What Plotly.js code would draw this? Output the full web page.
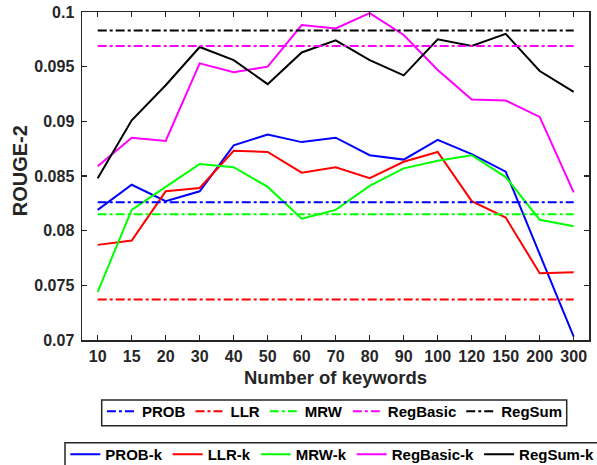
<!DOCTYPE html>
<html>
<head>
<meta charset="utf-8">
<script src="https://cdn.plot.ly/plotly-3.0.1.min.js"></script>
<style>
  html, body { margin: 0; padding: 0; background: #fff; }
  #chart { width: 597px; height: 465px; }
</style>
</head>
<body>
<div id="chart"></div>
<script>
// Categories (number of keywords)
const keywords = ['10','15','20','30','40','50','60','70','80','90','100','120','150','200','300'];

// Keyword-based series (solid lines)
const probK     = [0.0819, 0.0842, 0.0827, 0.0836, 0.0878, 0.0888, 0.0881, 0.0885, 0.0869, 0.0865, 0.0883, 0.0870, 0.0854, 0.0779, 0.0703];
const llrK      = [0.0787, 0.0791, 0.0836, 0.0839, 0.0873, 0.0872, 0.0853, 0.0858, 0.0848, 0.0863, 0.0872, 0.0827, 0.0812, 0.0761, 0.0762];
const mrwK      = [0.0744, 0.0819, 0.0840, 0.0861, 0.0858, 0.0840, 0.0811, 0.0819, 0.0841, 0.0857, 0.0864, 0.0869, 0.0849, 0.0810, 0.0804];
const regBasicK = [0.0859, 0.0885, 0.0882, 0.0953, 0.0945, 0.0950, 0.0988, 0.0985, 0.0999, 0.0979, 0.0947, 0.0920, 0.0919, 0.0904, 0.0835];
const regSumK   = [0.0848, 0.0901, 0.0933, 0.0968, 0.0956, 0.0934, 0.0963, 0.0974, 0.0956, 0.0942, 0.0975, 0.0969, 0.0980, 0.0946, 0.0927];

// Baselines (dash-dot lines)
const probBase     = 0.0826;
const llrBase      = 0.0737;
const mrwBase      = 0.0815;
const regBasicBase = 0.0969;
const regSumBase   = 0.0983;

// Labels
const baseNames = ['PROB', 'LLR', 'MRW', 'RegBasic', 'RegSum'];
const kNames = ['PROB-k', 'LLR-k', 'MRW-k', 'RegBasic-k', 'RegSum-k'];
const yTickVals = [0.07, 0.075, 0.08, 0.085, 0.09, 0.095, 0.1];
const yTickText = ['0.07', '0.075', '0.08', '0.085', '0.09', '0.095', '0.1'];
const xTitle = 'Number of keywords';
const yTitle = 'ROUGE-2';

const baseValues = [probBase, llrBase, mrwBase, regBasicBase, regSumBase];
const kValues = [probK, llrK, mrwK, regBasicK, regSumK];
const colors = ['#0000ff', '#ff0000', '#00ff00', '#ff00ff', '#000000'];

const FONT = '"Liberation Sans", Arial, Helvetica, sans-serif';
const AXC = '#262626';
const W = 597, H = 465, ML = 82, MR = 8, MT = 12, MB = 125;
const PW = W - ML - MR, PH = H - MT - MB;
const px2x = p => (p - ML) / PW;
const px2y = p => 1 - (p - MT) / PH;

const traces = [];
kNames.forEach((n, i) => traces.push({
  type: 'scatter', mode: 'lines', name: n,
  x: keywords, y: kValues[i],
  line: { color: colors[i], width: 2 },
  legend: 'legend2'
}));
baseNames.forEach((n, i) => traces.push({
  type: 'scatter', mode: 'lines', name: n,
  x: [keywords[0], keywords[keywords.length - 1]],
  y: [baseValues[i], baseValues[i]],
  line: { color: colors[i], width: 2, dash: 'dashdot' },
  legend: 'legend'
}));

const boxLine = { color: AXC, width: 1.5 };
const layout = {
  width: W, height: H,
  margin: { l: ML, r: MR, t: MT, b: MB, autoexpand: false },
  paper_bgcolor: '#ffffff', plot_bgcolor: '#ffffff',
  font: { family: FONT, color: AXC, weight: 'bold' },
  showlegend: true,
  xaxis: {
    type: 'category', categoryorder: 'array', categoryarray: keywords,
    range: [-0.4618, 14.45],
    showgrid: false, zeroline: false,
    showline: true, linecolor: AXC, linewidth: 1.5, mirror: 'ticks',
    ticks: 'inside', ticklen: 5, tickwidth: 1.5, tickcolor: AXC, ticklabelstandoff: 1,
    tickfont: { family: FONT, size: 16, color: AXC, weight: 'bold' },
    title: { text: xTitle, font: { family: FONT, size: 18.5, color: AXC, weight: 'bold' }, standoff: 7 }
  },
  yaxis: {
    range: [0.07, 0.1], tickvals: yTickVals, ticktext: yTickText,
    showgrid: false, zeroline: false,
    showline: true, linecolor: AXC, linewidth: 1.5, mirror: 'ticks',
    ticks: 'inside', ticklen: 5, tickwidth: 1.5, tickcolor: AXC, ticklabelstandoff: 3,
    tickfont: { family: FONT, size: 16, color: AXC, weight: 'bold' }
  },
  annotations: [{
    text: yTitle, textangle: -90, xref: 'paper', yref: 'paper',
    x: px2x(20.8), y: px2y(170.5), xanchor: 'center', yanchor: 'middle', showarrow: false,
    font: { family: FONT, size: 20, color: AXC, weight: 'bold' }
  }],
  shapes: [
    { type: 'rect', xref: 'paper', yref: 'paper', x0: px2x(101.7), x1: px2x(566.7), y0: px2y(400), y1: px2y(425.7), line: boxLine, fillcolor: 'rgba(0,0,0,0)', layer: 'above' },
    { type: 'rect', xref: 'paper', yref: 'paper', x0: px2x(65), x1: px2x(610), y0: px2y(442.7), y1: px2y(480), line: boxLine, fillcolor: 'rgba(0,0,0,0)', layer: 'above' }
  ],
  legend: {
    orientation: 'h', x: 0.0394, xanchor: 'left', y: -0.168, yanchor: 'top',
    bgcolor: 'rgba(0,0,0,0)', borderwidth: 0,
    font: { family: FONT, size: 15, color: '#000000', weight: 'bold' }
  },
  legend2: {
    orientation: 'h', x: -0.0329, xanchor: 'left', y: -0.299, yanchor: 'top',
    bgcolor: 'rgba(0,0,0,0)', borderwidth: 0,
    font: { family: FONT, size: 15, color: '#000000', weight: 'bold' }
  }
};

Plotly.newPlot('chart', traces, layout, { displayModeBar: false, staticPlot: true });
</script>
</body>
</html>
